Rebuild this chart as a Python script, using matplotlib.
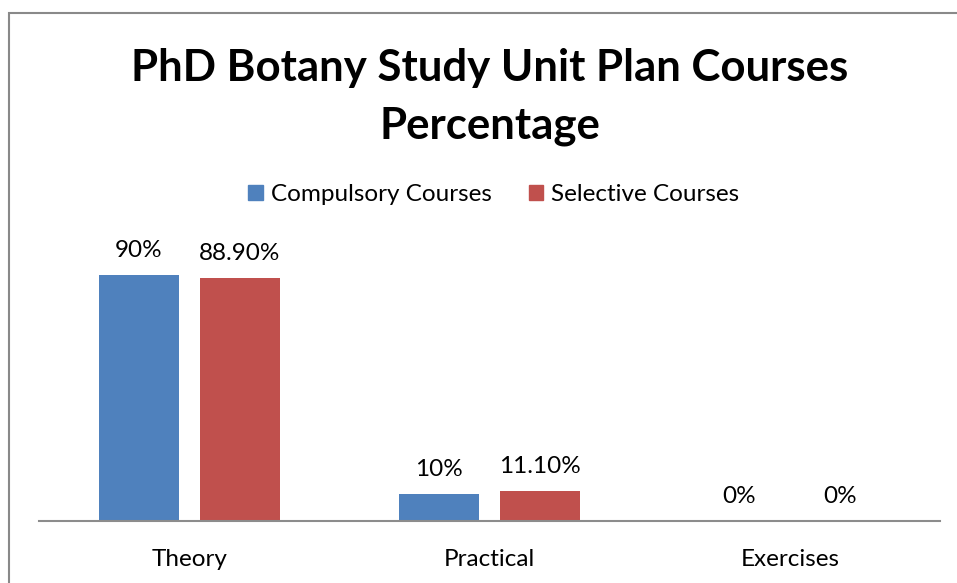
import matplotlib.pyplot as plt
from matplotlib.patches import Rectangle, Patch

categories = ["Theory", "Practical", "Exercises"]
compulsory = [90, 10, 0]
selective = [88.9, 11.1, 0]
compulsory_labels = ["90%", "10%", "0%"]
selective_labels = ["88.90%", "11.10%", "0%"]
series_names = ["Compulsory Courses", "Selective Courses"]

blue = "#4f81bd"
red = "#c0504d"
font = "Lato"
fs = 17.5

W, H = 957, 583
fig = plt.figure(figsize=(W / 100, H / 100), dpi=100)

# chart area border (cut off at right and bottom)
fig.patches.append(Rectangle((9 / W, -0.1), 1.2, 1 - 13 / H + 0.1,
                             transform=fig.transFigure, fill=False,
                             edgecolor="#898989", linewidth=1.5))

ax = fig.add_axes([39 / W, (H - 521) / H, 901 / W, 273.3 / H])
ax.set_xlim(-0.5, 2.5)
ax.set_ylim(0, 100)

x = range(len(categories))
w = 0.266
off = 0.168
b1 = ax.bar([i - off for i in x], compulsory, w, color=blue)
b2 = ax.bar([i + off for i in x], selective, w, color=red)

for bars, labels in ((b1, compulsory_labels), (b2, selective_labels)):
    for b, lab in zip(bars, labels):
        ax.annotate(lab, (b.get_x() + b.get_width() / 2, b.get_height()),
                    xytext=(0, 10), textcoords="offset points",
                    ha="center", va="bottom", fontsize=fs, family=font)

for s in ["top", "left", "right"]:
    ax.spines[s].set_visible(False)
ax.spines["bottom"].set_color("#8c8c8c")
ax.spines["bottom"].set_linewidth(1.5)
ax.set_yticks([])
ax.set_xticks(list(x))
ax.set_xticklabels(categories, fontsize=fs, family=font)
ax.tick_params(axis="x", length=0, pad=20)
ax.patch.set_alpha(0)

fig.text(490 / W, 1 - 97 / H, "PhD Botany Study Unit Plan Courses\nPercentage",
         ha="center", va="center", fontsize=31.5, fontweight="bold",
         family=font, linespacing=1.55)

handles = [Patch(color=blue), Patch(color=red)]
fig.legend(handles, series_names, loc="center", bbox_to_anchor=(494 / W, 1 - 195 / H),
           ncol=2, frameon=False, prop={"family": font, "size": fs},
           handlelength=0.58, handleheight=0.58, handletextpad=0.33, columnspacing=1.56)

fig.savefig("out.png", dpi=100)
